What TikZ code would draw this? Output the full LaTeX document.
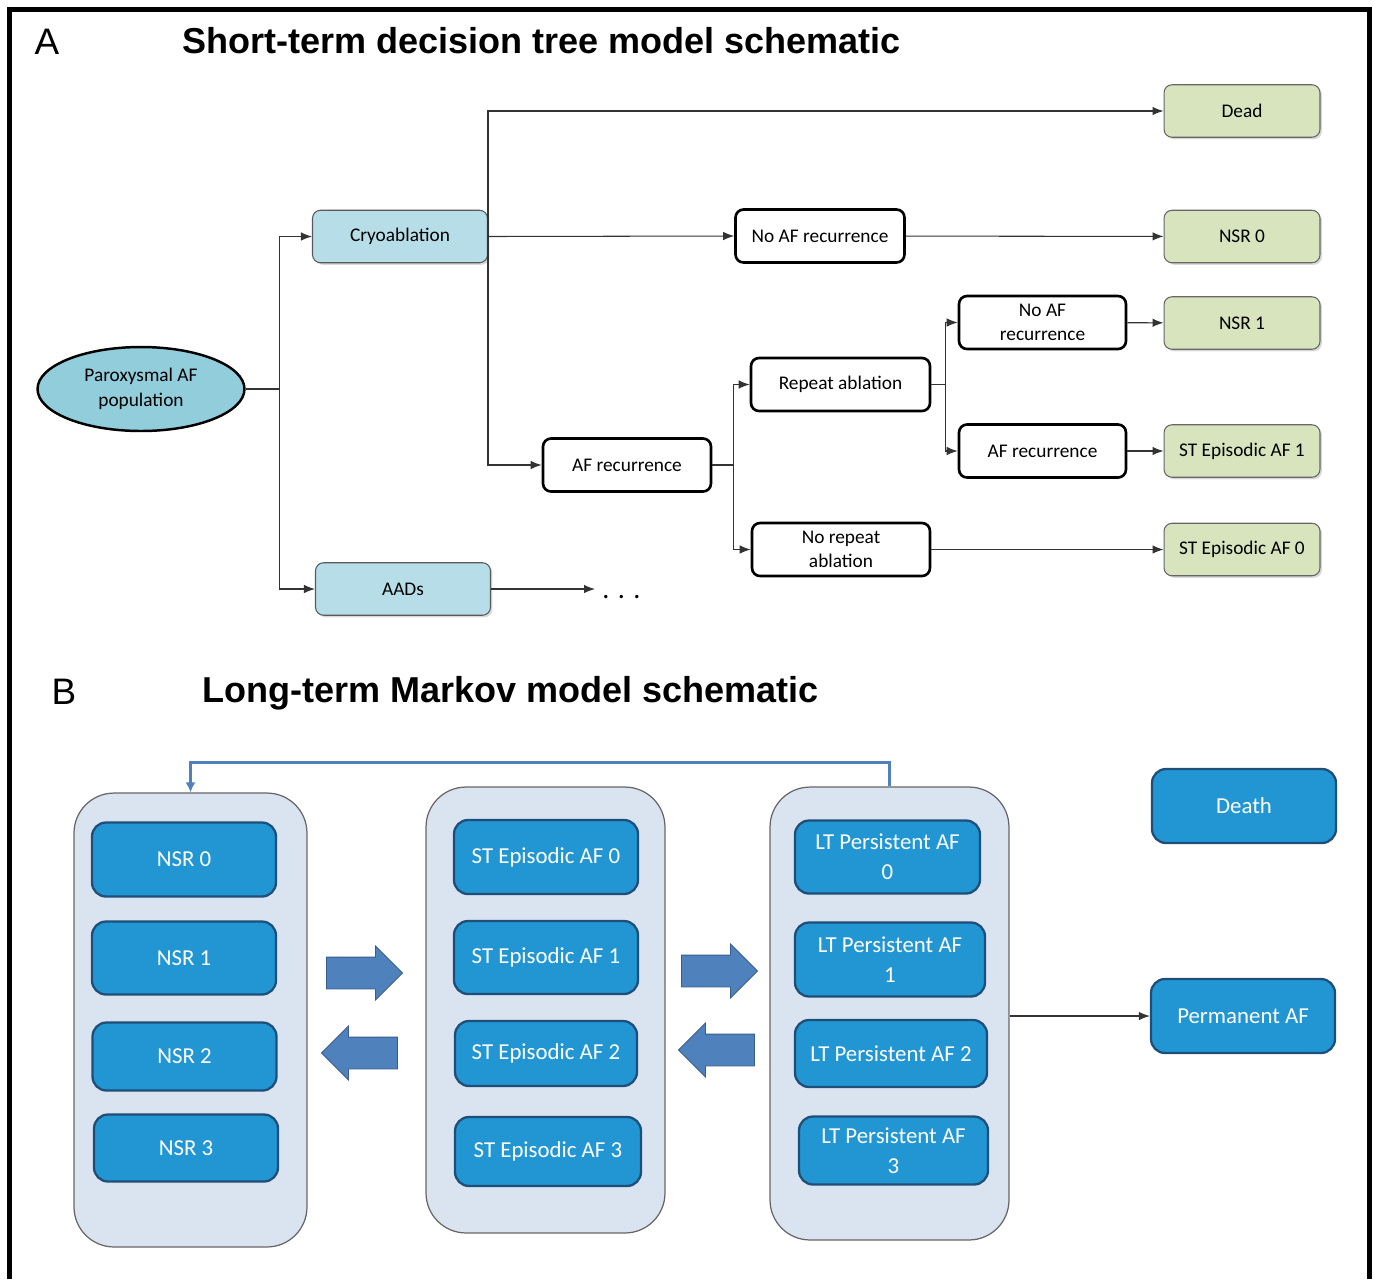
\documentclass[tikz,border=0pt]{standalone}
\usepackage{fontspec}
\setmainfont{Carlito}
\newfontfamily\titlefont{Liberation Sans}
\usetikzlibrary{shapes.geometric, shapes.arrows, arrows.meta, positioning, shadows}
\definecolor{rootblue}{HTML}{92CDDC}
\definecolor{treatblue}{HTML}{B7DEE8}
\definecolor{outgreen}{HTML}{D7E4BD}
\definecolor{statefill}{HTML}{2196D3}
\definecolor{stateline}{HTML}{1F4E79}
\definecolor{groupfill}{HTML}{DAE3F0}
\definecolor{bigarrow}{HTML}{4F81BD}
\definecolor{bigarrowline}{HTML}{385D8A}
\tikzstyle{root} = [ellipse, inner sep=0pt, minimum width=4.14cm, minimum height=1.68cm, align=center, draw=black, line width=1.4pt, fill=rootblue, font=\fontsize{11}{14.2}\selectfont]
\tikzstyle{treat} = [rectangle, rounded corners=0.16cm, minimum width=3.5cm, minimum height=1.05cm, text centered, draw=black!65, line width=0.6pt, fill=treatblue, drop shadow={opacity=0.3, shadow xshift=0.04cm, shadow yshift=-0.04cm}, font=\fontsize{11}{13.6}\selectfont]
\tikzstyle{event} = [rectangle, rounded corners=0.16cm, minimum height=1.06cm, inner sep=1pt, align=center, draw=black, line width=1.5pt, fill=white, font=\fontsize{11}{13.6}\selectfont]
\tikzstyle{outcome} = [rectangle, rounded corners=0.16cm, minimum width=3.12cm, minimum height=1.05cm, text centered, draw=black!60, line width=0.6pt, fill=outgreen, drop shadow={opacity=0.3, shadow xshift=0.04cm, shadow yshift=-0.04cm}, font=\fontsize{11}{13.6}\selectfont]
\tikzstyle{group} = [rectangle, rounded corners=0.8cm, draw=black!60, line width=0.7pt, fill=groupfill]
\tikzstyle{state} = [rectangle, rounded corners=0.28cm, minimum width=3.68cm, minimum height=1.48cm, inner sep=1pt, align=center, draw=stateline, line width=1.3pt, fill=statefill, text=white, font=\fontsize{13}{17}\selectfont]
\tikzstyle{blockarrow} = [single arrow, single arrow head extend=0.22cm, inner sep=0pt, inner ysep=0.31cm, minimum height=1.52cm, draw=bigarrowline, line width=0.5pt, fill=bigarrow]
\tikzstyle{arrow} = [draw=black!80, line width=0.6pt, -{Latex[length=2.2mm, width=1.7mm]}]
\tikzstyle{feedback} = [draw=bigarrow, line width=1.7pt, -{Latex[length=2mm, width=2mm]}]
\tikzstyle{heading} = [font=\titlefont\bfseries\fontsize{20.5}{24}\selectfont]
\tikzstyle{panel} = [font=\titlefont\fontsize{21}{24}\selectfont]

\begin{document}
\begin{tikzpicture}[x=0.02cm, y=-0.02cm]
\useasboundingbox (0,0) rectangle (1375,1279);
\draw [line width=0.09cm] (9.5,1279) -- (9.5,9.5) -- (1369.5,9.5) -- (1369.5,1279);

% A: decision tree
\node (labela) [panel] at (47,42) {A};
\node (titlea) [heading] at (541.5,41) {Short-term decision tree model schematic};

\node (root) [root] at (141,389) {Paroxysmal AF\\population};
\node (cryo) [treat] at (400,236.5) {Cryoablation};
\node (aads) [treat] at (403,589) {AADs};

\node (noafrec) [event, minimum width=3.38cm] at (820,236) {No AF recurrence};
\node (afrec) [event, minimum width=3.36cm] at (627,465) {AF recurrence};
\node (repabl) [event, minimum width=3.58cm] at (840.5,384.5) {Repeat ablation};
\node (norepabl) [event, minimum width=3.56cm] at (841,549.5) {No repeat\\ablation};
\node (noafrecb) [event, minimum width=3.34cm] at (1042.5,322.5) {No AF\\recurrence};
\node (afrecb) [event, minimum width=3.34cm] at (1042.5,451) {AF recurrence};

\node (dead) [outcome] at (1242,111) {Dead};
\node (nsrzero) [outcome] at (1242,236.5) {NSR 0};
\node (nsrone) [outcome] at (1242,323) {NSR 1};
\node (stepone) [outcome] at (1242,451) {ST Episodic AF 1};
\node (stepzero) [outcome] at (1242,549.5) {ST Episodic AF 0};
\node (more) [font=\fontsize{16}{16}\selectfont, anchor=base west, inner sep=0pt] at (602,598) {. . .};

\draw [arrow] (root.east) -- ++(34,0) |- (cryo.west);
\draw [arrow] (root.east) -- ++(34,0) |- (aads.west);
\draw [arrow] (cryo.east) |- (dead.west);
\draw [arrow] (cryo.east) -- (noafrec.west);
\draw [arrow] (cryo.east) |- (afrec.west);
\draw [arrow] (noafrec) -- (nsrzero);
\draw [arrow] (afrec.east) -- ++(21,0) |- (repabl.west);
\draw [arrow] (afrec.east) -- ++(21,0) |- (norepabl.west);
\draw [arrow] (repabl.east) -- ++(14,0) |- (noafrecb.west);
\draw [arrow] (repabl.east) -- ++(14,0) |- (afrecb.west);
\draw [arrow] (noafrecb) -- (nsrone);
\draw [arrow] (afrecb) -- (stepone);
\draw [arrow] (norepabl) -- (stepzero);
\draw [arrow] (aads.east) -- ++(104,0);

% B: Markov model
\node (labelb) [panel] at (64,692) {B};
\node (titleb) [heading] at (510.5,693) {Long-term Markov model schematic};

\node (grpnsr) [group, minimum width=4.66cm, minimum height=9.08cm] at (190.5,1020) {};
\node (grpst) [group, minimum width=4.78cm, minimum height=8.92cm] at (545.5,1010) {};
\node (grplt) [group, minimum width=4.78cm, minimum height=9.06cm] at (889.5,1013.5) {};

\node (nsr0) [state] at (184,859.5) {NSR 0};
\node (nsr1) [state, minimum height=1.46cm] at (184,958) {NSR 1};
\node (nsr2) [state, minimum height=1.36cm] at (184.5,1056.5) {NSR 2};
\node (nsr3) [state, minimum height=1.34cm] at (186,1148) {NSR 3};

\node (st0) [state] at (546,857) {ST Episodic AF 0};
\node (st1) [state, minimum height=1.46cm] at (546,957.5) {ST Episodic AF 1};
\node (st2) [state, minimum width=3.64cm, minimum height=1.3cm] at (546,1053.5) {ST Episodic AF 2};
\node (st3) [state, minimum width=3.72cm, minimum height=1.38cm] at (548,1151.5) {ST Episodic AF 3};

\node (lt0) [state, minimum width=3.7cm, minimum height=1.46cm] at (887.5,857) {LT Persistent AF\\0};
\node (lt1) [state, minimum width=3.8cm] at (890,959.5) {LT Persistent AF\\1};
\node (lt2) [state, minimum width=3.84cm, minimum height=1.34cm] at (891,1053.5) {LT Persistent AF 2};
\node (lt3) [state, minimum width=3.78cm, minimum height=1.36cm] at (893.5,1150.5) {LT Persistent AF\\3};

\node (death) [state] at (1244,806) {Death};
\node (permaf) [state] at (1243,1016) {Permanent AF};

\node (fwdone) [blockarrow] at (356.5,973) {};
\node (backone) [blockarrow, shape border rotate=180] at (367.5,1053) {};
\node (fwdtwo) [blockarrow] at (711.5,971) {};
\node (backtwo) [blockarrow, shape border rotate=180] at (724.5,1050) {};

\draw [arrow] (grplt.east |- permaf.west) -- (permaf.west);
\draw [feedback] (grplt.north) -- ++(0,-24) -| (grpnsr.north);

\end{tikzpicture}
\end{document}
